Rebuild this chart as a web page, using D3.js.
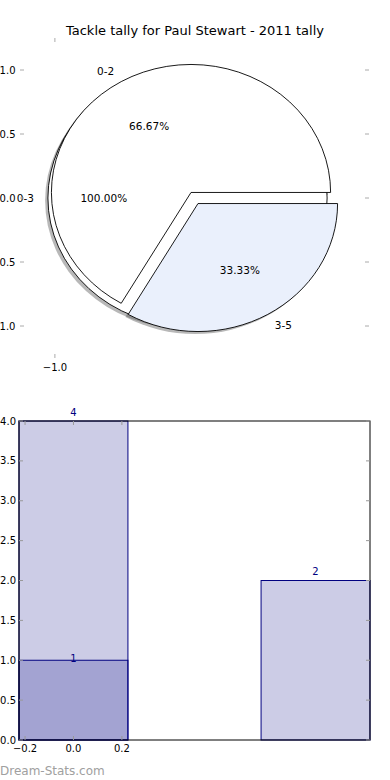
<!DOCTYPE html>
<html>
<head>
<meta charset="utf-8">
<script src="https://cdn.jsdelivr.net/npm/d3@7/dist/d3.min.js"></script>
<style>
  body { margin: 0; background: #fff; }
  svg { display: block; font-family: 'DejaVu Sans', sans-serif; }
</style>
</head>
<body>
<div id="chart"></div>
<script>
const chartTitle = 'Tackle tally for Paul Stewart - 2011 tally';

// pie: outer (whole season) and split
const outerLabels = ['0-3'];
const outerValues = [3];
const splitLabels = ['0-2', '3-5'];
const splitValues = [2, 1];
const pieYTicks = [1.0, 0.5, 0.0, -0.5, -1.0];
const pieXTicks = [-1.0];

// bars
const barPositions = [0, 1];
const barValues = [4, 2];
const overlayPositions = [0];
const overlayValues = [1];
const barYTicks = [0, 0.5, 1, 1.5, 2, 2.5, 3, 3.5, 4];
const barXTicks = [-0.2, 0.0, 0.2];

const outerColors = ['#ffffff'],
    splitColors = ['#ffffff', '#eaf0fc'],
    barColor = 'navy',
    tickColor = '#aaa';

const width = 390, height = 780;
const explode = 0.05, shadowOff = 0.02;

const fmt = d => d3.format('.1f')(d).replace('-', '\u2212');

const svg = d3.select('#chart').append('svg')
    .attr('width', width)
    .attr('height', height);

svg.append('rect').attr('width', width).attr('height', height).attr('fill', '#fff');

svg.append('text')
    .attr('x', 195).attr('y', 30)
    .attr('text-anchor', 'middle')
    .attr('dominant-baseline', 'central')
    .attr('font-size', 13)
    .text(chartTitle);

//---------------- pie ----------------
const px = d3.scaleLinear().domain([-1.25, 1.25]).range([20, 369]);
const py = d3.scaleLinear().domain([-1.25, 1.25]).range([358, 38]);
const kx = px(1) - px(0), ky = py(0) - py(1);

function pieWedges(labels, values, colors) {
    const arcs = d3.pie().sort(null)
        .startAngle(Math.PI / 2)
        .endAngle(Math.PI / 2 - 2 * Math.PI)(values);
    const total = d3.sum(values);
    return arcs.map((a, i) => {
        const theta = Math.PI / 2 - (a.startAngle + a.endAngle) / 2;
        const cx = explode * Math.cos(theta), cy = explode * Math.sin(theta);
        return {
            arc: a, label: labels[i], color: colors[i],
            pct: (values[i] / total * 100).toFixed(2) + '%',
            cx: cx, cy: cy, theta: theta
        };
    });
}

const wedges = pieWedges(outerLabels, outerValues, outerColors)
    .concat(pieWedges(splitLabels, splitValues, splitColors));

const arcGen = d3.arc().innerRadius(0).outerRadius(1);
const pieG = svg.append('g');

// shadows sit below every wedge
pieG.selectAll('path.shadow')
    .data(wedges)
    .enter()
    .append('path')
    .attr('class', 'shadow')
    .attr('transform', d => 'translate(' + px(d.cx - shadowOff) + ',' + py(d.cy - shadowOff) + ') scale(' + kx + ',' + ky + ')')
    .attr('d', d => arcGen(d.arc))
    .attr('fill', '#4d4d4d')
    .attr('opacity', 0.4);

pieG.selectAll('path.wedge')
    .data(wedges)
    .enter()
    .append('path')
    .attr('class', 'wedge')
    .attr('transform', d => 'translate(' + px(d.cx) + ',' + py(d.cy) + ') scale(' + kx + ',' + ky + ')')
    .attr('d', d => arcGen(d.arc))
    .attr('fill', d => d.color)
    .attr('stroke', '#000')
    .attr('stroke-width', 0.9)
    .attr('vector-effect', 'non-scaling-stroke');

wedges.forEach(d => {
    const xt = d.cx + 1.1 * Math.cos(d.theta),
        yt = d.cy + 1.1 * Math.sin(d.theta);
    pieG.append('text')
        .attr('x', px(xt)).attr('y', py(yt))
        .attr('text-anchor', xt > 0 ? 'start' : 'end')
        .attr('dominant-baseline', 'central')
        .attr('font-size', 10.5)
        .text(d.label);
    pieG.append('text')
        .attr('x', px(d.cx + 0.6 * Math.cos(d.theta)))
        .attr('y', py(d.cy + 0.6 * Math.sin(d.theta)))
        .attr('text-anchor', 'middle')
        .attr('dominant-baseline', 'central')
        .attr('font-size', 10.5)
        .text(d.pct);
});

// pie axis ticks (no frame)
pieYTicks.forEach(t => {
    svg.append('line').attr('x1', px(-1.25)).attr('x2', px(-1.25) + 4)
        .attr('y1', py(t)).attr('y2', py(t)).attr('stroke', tickColor);
    svg.append('line').attr('x1', px(1.25) - 4).attr('x2', px(1.25))
        .attr('y1', py(t)).attr('y2', py(t)).attr('stroke', tickColor);
    svg.append('text')
        .attr('x', px(-1.25) - 4.5).attr('y', py(t))
        .attr('text-anchor', 'end')
        .attr('dominant-baseline', 'central')
        .attr('font-size', 10)
        .text(fmt(t));
});
pieXTicks.forEach(t => {
    svg.append('line').attr('x1', px(t)).attr('x2', px(t))
        .attr('y1', py(1.25)).attr('y2', py(1.25) + 4).attr('stroke', tickColor);
    svg.append('line').attr('x1', px(t)).attr('x2', px(t))
        .attr('y1', py(-1.25) - 4).attr('y2', py(-1.25)).attr('stroke', tickColor);
    svg.append('text')
        .attr('x', px(t)).attr('y', py(-1.25) + 9)
        .attr('text-anchor', 'middle')
        .attr('dominant-baseline', 'central')
        .attr('font-size', 10)
        .text(fmt(t));
});

//---------------- bars ----------------
const bx = d3.scaleLinear().domain([-0.225, 1.225]).range([19, 370]);
const by = d3.scaleLinear().domain([0, 4]).range([740, 421]);
const barW = 0.45;

const barG = svg.append('g');

barG.selectAll('rect.bar')
    .data(barPositions)
    .enter()
    .append('rect')
    .attr('class', 'bar')
    .attr('x', d => bx(d - barW / 2))
    .attr('width', bx(barW) - bx(0))
    .attr('y', (d, i) => by(barValues[i]))
    .attr('height', (d, i) => by(0) - by(barValues[i]))
    .attr('fill', barColor).attr('fill-opacity', 0.2)
    .attr('stroke', barColor).attr('stroke-width', 1);

barG.selectAll('rect.overlay')
    .data(overlayPositions)
    .enter()
    .append('rect')
    .attr('class', 'overlay')
    .attr('x', d => bx(d - barW / 2))
    .attr('width', bx(barW) - bx(0))
    .attr('y', (d, i) => by(overlayValues[i]))
    .attr('height', (d, i) => by(0) - by(overlayValues[i]))
    .attr('fill', barColor).attr('fill-opacity', 0.2)
    .attr('stroke', barColor).attr('stroke-width', 1);

barPositions.forEach((p, i) => {
    barG.append('text')
        .attr('x', bx(p)).attr('y', by(barValues[i]) - 5.5)
        .attr('text-anchor', 'middle')
        .attr('font-size', 10)
        .attr('fill', barColor)
        .text(barValues[i]);
});
overlayPositions.forEach((p, i) => {
    barG.append('text')
        .attr('x', bx(p)).attr('y', by(overlayValues[i]) + 2)
        .attr('text-anchor', 'middle')
        .attr('font-size', 10)
        .attr('fill', barColor)
        .text(overlayValues[i]);
});

// frame
svg.append('rect')
    .attr('x', bx(-0.225)).attr('y', by(4))
    .attr('width', bx(1.225) - bx(-0.225))
    .attr('height', by(0) - by(4))
    .attr('fill', 'none').attr('stroke', '#000').attr('stroke-width', 1);

barYTicks.forEach(t => {
    svg.append('line').attr('x1', bx(-0.225)).attr('x2', bx(-0.225) + 4)
        .attr('y1', by(t)).attr('y2', by(t)).attr('stroke', '#999');
    svg.append('line').attr('x1', bx(1.225) - 4).attr('x2', bx(1.225))
        .attr('y1', by(t)).attr('y2', by(t)).attr('stroke', '#999');
    svg.append('text')
        .attr('x', bx(-0.225) - 3).attr('y', by(t))
        .attr('text-anchor', 'end')
        .attr('dominant-baseline', 'central')
        .attr('font-size', 10)
        .text(fmt(t));
});
barXTicks.forEach(t => {
    svg.append('line').attr('x1', bx(t)).attr('x2', bx(t))
        .attr('y1', by(4)).attr('y2', by(4) + 4).attr('stroke', '#999');
    svg.append('line').attr('x1', bx(t)).attr('x2', bx(t))
        .attr('y1', by(0) - 4).attr('y2', by(0)).attr('stroke', '#999');
    svg.append('text')
        .attr('x', bx(t)).attr('y', by(0) + 8)
        .attr('text-anchor', 'middle')
        .attr('dominant-baseline', 'central')
        .attr('font-size', 10)
        .text(fmt(t));
});

svg.append('text')
    .attr('x', 0).attr('y', 775)
    .attr('font-size', 12)
    .attr('fill', '#a0a0a0')
    .text('Dream-Stats.com');
</script>
</body>
</html>
